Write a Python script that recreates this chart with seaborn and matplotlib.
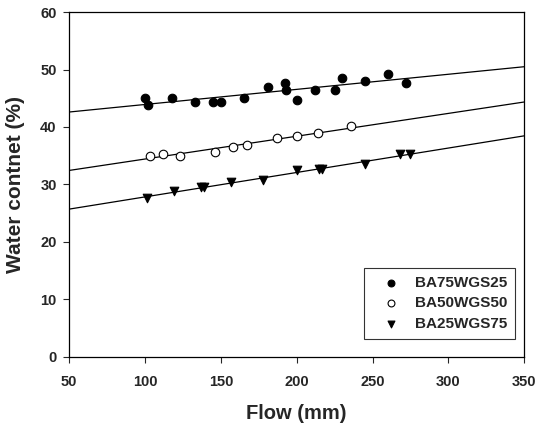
import numpy as np
import pandas as pd
import matplotlib
matplotlib.use('Agg')
import matplotlib.pyplot as plt
import seaborn as sns

sns.set_style('ticks')
plt.rcParams['font.family'] = ['Liberation Sans', 'DejaVu Sans']

#Data
flow_75 = [100, 102, 118, 133, 145, 150, 165, 181, 192, 193, 200, 212, 225, 230, 245, 260, 272]
water_75 = [45.1, 43.8, 45.0, 44.3, 44.3, 44.3, 45.1, 47.0, 47.7, 46.4, 44.7, 46.4, 46.4, 48.5, 48.0, 49.3, 47.7]

flow_50 = [103, 112, 123, 146, 158, 167, 187, 200, 214, 236]
water_50 = [35.0, 35.3, 35.0, 35.6, 36.6, 36.9, 38.1, 38.4, 38.9, 40.1]

flow_25 = [101, 119, 137, 139, 157, 178, 200, 215, 217, 245, 268, 275]
water_25 = [27.7, 28.8, 29.5, 29.5, 30.4, 30.8, 32.5, 32.7, 32.7, 33.5, 35.3, 35.3]

labels = ['BA75WGS25', 'BA50WGS50', 'BA25WGS75']
x_ticks = [50, 100, 150, 200, 250, 300, 350]
y_ticks = [0, 10, 20, 30, 40, 50, 60]

series = [
    (flow_75, water_75, labels[0], 'o', 'black'),
    (flow_50, water_50, labels[1], 'o', 'white'),
    (flow_25, water_25, labels[2], 'v', 'black'),
]

fig = plt.figure(figsize=(5.36, 4.30), dpi=100)
ax = fig.add_axes([0.129, 0.170, 0.849, 0.802])
ax.set_xlim(50, 350)
ax.set_ylim(0, 60)

for fx, wy, lab, mk, fc in series:
    df = pd.DataFrame({'flow': fx, 'water': wy})
    #regression line over the full x range
    sns.regplot(x='flow', y='water', data=df, ax=ax, scatter=False, ci=None,
                truncate=False, line_kws={'color': 'black', 'lw': 0.9})
    sns.scatterplot(x='flow', y='water', data=df, ax=ax, marker=mk, s=38,
                    color=fc, edgecolor='black', linewidth=0.8, label=lab, zorder=3)

ax.set_xlim(50, 350)
ax.set_ylim(0, 60)
ax.set_xticks(x_ticks)
ax.set_yticks(y_ticks)
ax.tick_params(direction='out', length=4, width=0.8, labelsize=10.5)
ax.tick_params(axis='x', pad=9)
ax.tick_params(axis='y', pad=5)
for t in ax.get_xticklabels() + ax.get_yticklabels():
    t.set_fontweight('bold')
for s in ax.spines.values():
    s.set_linewidth(0.9)
    s.set_color('black')

ax.set_xlabel('Flow (mm)', fontsize=14.5, fontweight='bold', labelpad=11)
ax.set_ylabel('Water contnet (%)', fontsize=15, fontweight='bold', labelpad=11)

leg = ax.legend(loc='lower right', bbox_to_anchor=(0.980, 0.052), borderaxespad=0,
                frameon=True, fancybox=False, edgecolor='black',
                prop={'weight': 'bold', 'size': 11}, markerscale=0.8,
                borderpad=0.5, handlelength=2.5, handletextpad=0.35,
                labelspacing=0.45)
leg.get_frame().set_linewidth(0.8)

fig.savefig('out.png', dpi=100)
